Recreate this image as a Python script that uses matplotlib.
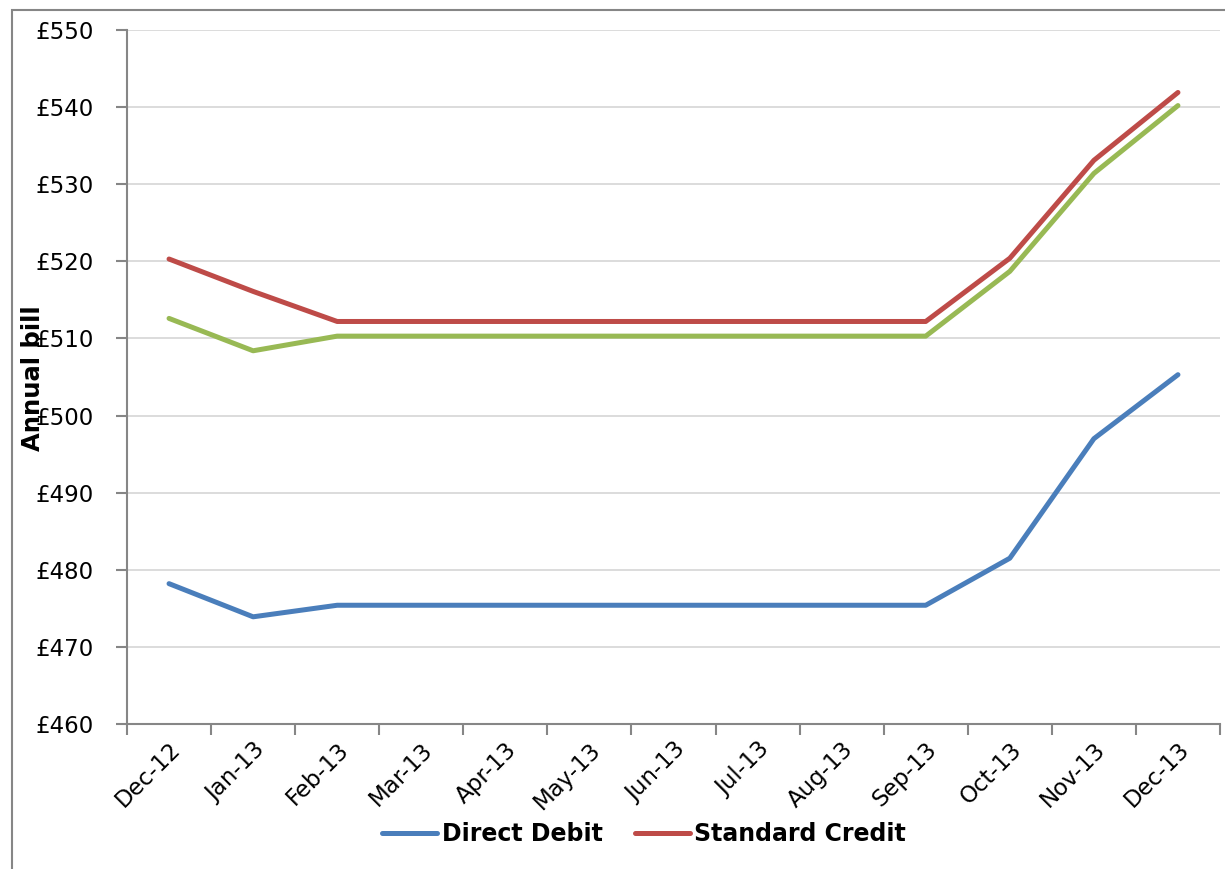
import matplotlib
matplotlib.use("Agg")
import matplotlib.pyplot as plt
from matplotlib.patches import Rectangle
import numpy as np

months = ["Dec-12", "Jan-13", "Feb-13", "Mar-13", "Apr-13", "May-13", "Jun-13",
          "Jul-13", "Aug-13", "Sep-13", "Oct-13", "Nov-13", "Dec-13"]
direct_debit = [478.2, 473.9, 475.4, 475.4, 475.4, 475.4, 475.4, 475.4, 475.4, 475.4, 481.5, 497.0, 505.3]
standard_credit = [520.3, 516.1, 512.2, 512.2, 512.2, 512.2, 512.2, 512.2, 512.2, 512.2, 520.4, 533.1, 541.9]
prepayment = [512.6, 508.4, 510.3, 510.3, 510.3, 510.3, 510.3, 510.3, 510.3, 510.3, 518.7, 531.4, 540.2]
y_ticks = [460, 470, 480, 490, 500, 510, 520, 530, 540, 550]

plt.rcParams['font.family'] = ['DejaVu Sans']

fig = plt.figure(figsize=(12.25, 8.69), dpi=100)
# outer chart border (clipped by image edge on right/bottom)
fig.patches.append(Rectangle((12 / 1225, -0.1), 1.2, 1 - 10 / 869 + 0.1,
                             transform=fig.transFigure, fill=False,
                             edgecolor="#868686", linewidth=1.5))

ax = fig.add_axes([127 / 1225, 1 - 724 / 869, (1220 - 127) / 1225, (724 - 30) / 869])
x = np.arange(len(months))
l1, = ax.plot(x, direct_debit, color="#4a7ebb", lw=3.6, solid_capstyle="round", label="Direct Debit")
l2, = ax.plot(x, standard_credit, color="#be4b48", lw=3.6, solid_capstyle="round", label="Standard Credit")
l3, = ax.plot(x, prepayment, color="#98b954", lw=3.6, solid_capstyle="round")

ax.set_xlim(-0.5, len(months) - 0.5)
ax.set_ylim(460, 550)
ax.set_yticks(y_ticks)
ax.set_yticklabels([f"£{v}" for v in y_ticks], fontsize=16.5)
ax.yaxis.grid(True, color="#d9d9d9", lw=1.3)
ax.set_axisbelow(True)

ax.set_xticks(x)
ax.set_xticklabels(months, rotation=45, ha="right", va="top", rotation_mode="anchor", fontsize=16.5)
ax.set_xticks(np.arange(-0.5, len(months)), minor=True)
ax.tick_params(axis="x", which="major", length=0, pad=10)
ax.tick_params(axis="x", which="minor", length=8, color="#868686", width=1.5)
ax.tick_params(axis="y", length=8, color="#868686", width=1.5, pad=16)

for s in ["top", "right"]:
    ax.spines[s].set_visible(False)
for s in ["left", "bottom"]:
    ax.spines[s].set_color("#868686")
    ax.spines[s].set_linewidth(1.5)

fig.text(33 / 1225, 1 - 378 / 869, "Annual bill", rotation=90, ha="center", va="center",
         fontsize=17.5, fontweight="bold")

fig.legend(handles=[l1, l2], loc="center", bbox_to_anchor=(0.526, 1 - 834 / 869), ncol=2,
           frameon=False, prop={"size": 17, "weight": "bold"}, handlelength=2.3,
           handletextpad=0.2, columnspacing=1.4)

fig.savefig("out.png", dpi=100)
